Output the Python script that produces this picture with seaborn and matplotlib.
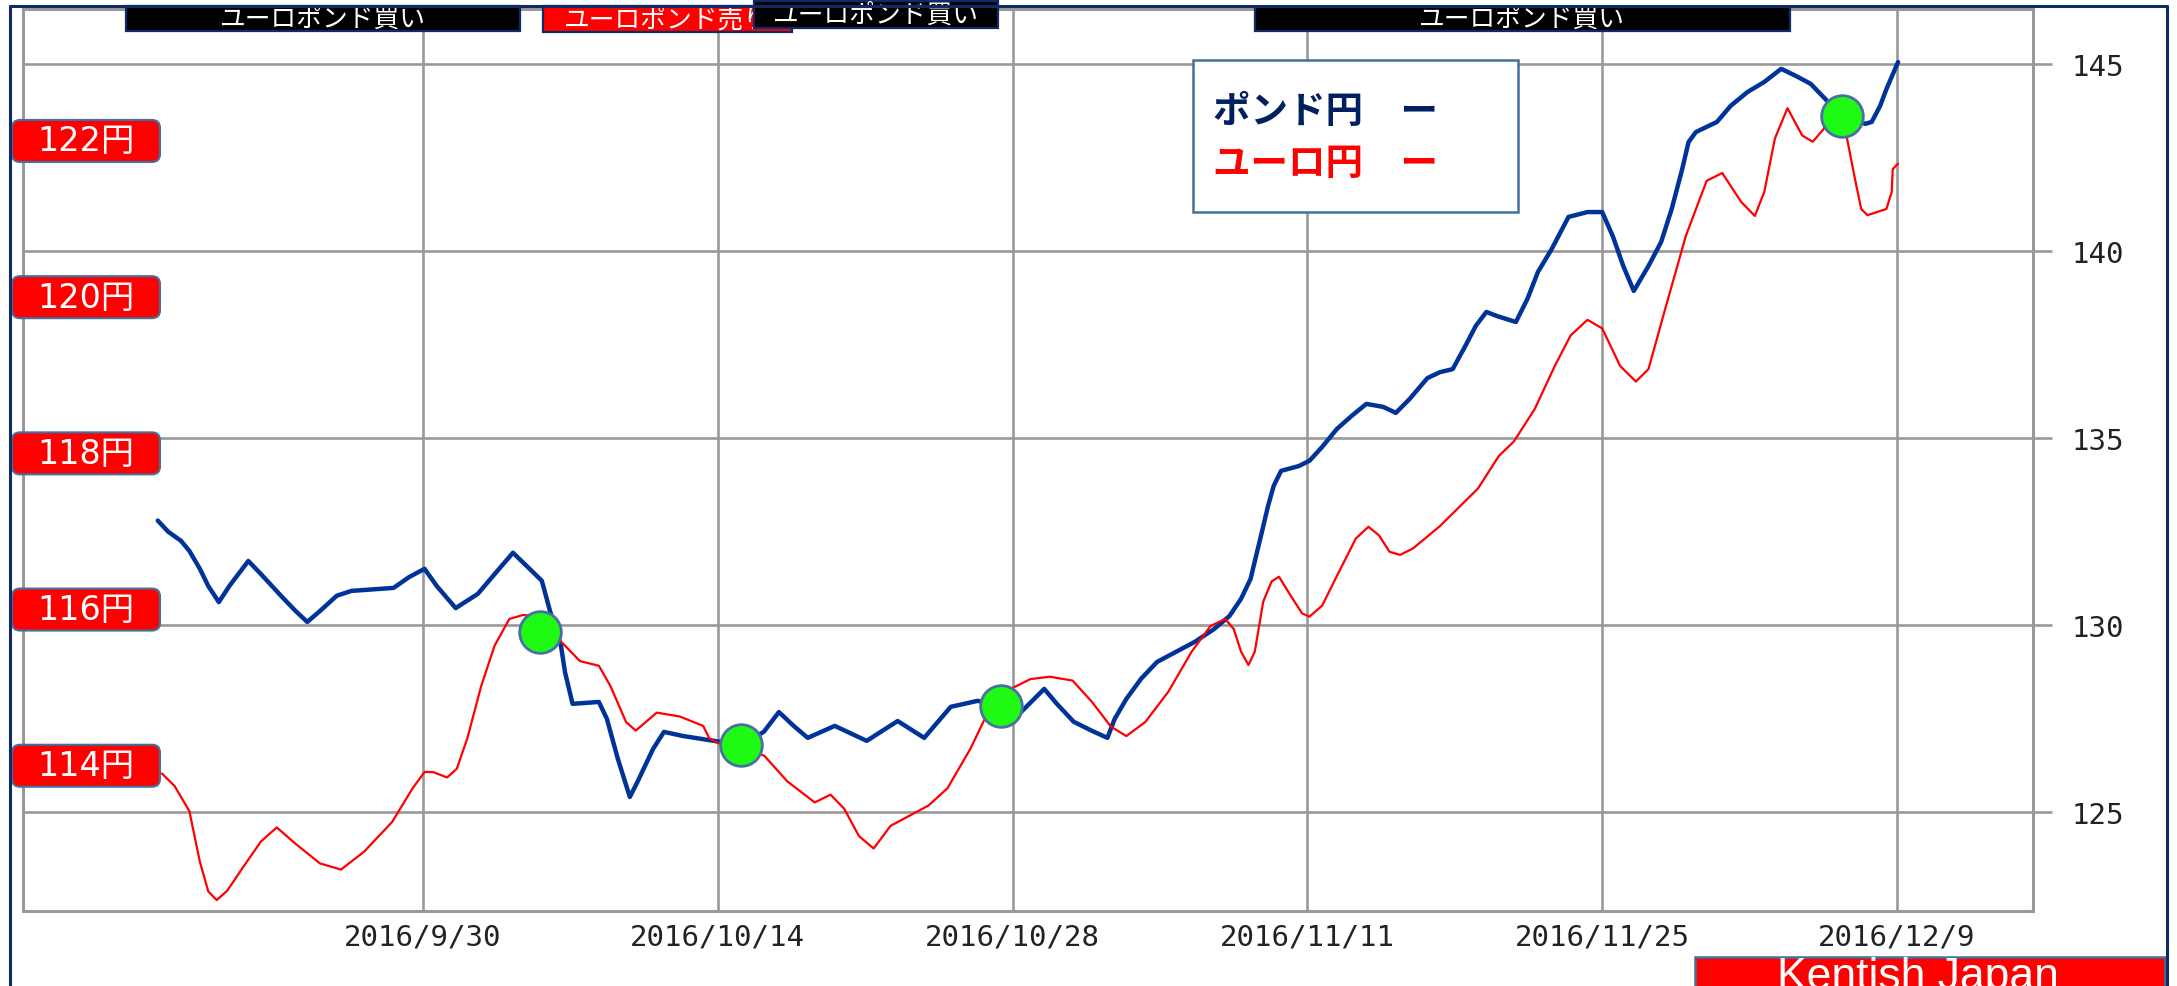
import numpy as np
import pandas as pd
import matplotlib
matplotlib.use("Agg")
import matplotlib.pyplot as plt
import seaborn as sns
from matplotlib.patches import Rectangle, FancyBboxPatch
from matplotlib.lines import Line2D
from matplotlib.transforms import blended_transform_factory, IdentityTransform

# ---------------- data (x = days from 2016/9/30) ----------------
pound_day = [-12.6, -12.1, -11.5, -11.1, -10.6, -10.2, -9.7, -9.2, -8.3, -7.7, -6.7, -6.05, -5.5, -4.9,
             -4.1, -3.4, -1.4, -0.66, 0.07, 0.65, 1.55, 2.6, 3.4, 4.27, 5.06, 5.64, 6.03, 6.55, 6.74,
             7.1, 8.35, 8.73, 9.25, 9.82, 10.18, 10.92, 11.44, 12.34, 13.81, 15.09, 16.18, 16.9, 17.6,
             18.27, 19.55, 21.07, 22.54, 23.8, 25.06, 26.34, 27.43, 28.4, 29.5, 30.1, 30.9, 31.76, 32.5,
             32.85, 33.4, 34.1, 34.86, 35.76, 36.66, 37.57, 38.3, 38.85, 39.3, 39.56, 39.84, 40.13, 40.4,
             40.75, 41.6, 42.1, 42.7, 43.4, 44.1, 44.8, 45.6, 46.2, 46.85, 47.7, 48.3, 48.9, 49.5, 50.0,
             50.5, 51.0, 51.9, 52.45, 52.95, 53.6, 54.4, 55.3, 56.0, 56.5, 57.0, 57.5, 58.2, 58.8, 59.3,
             59.8, 60.1, 60.45, 61.45, 62.1, 62.9, 63.7, 64.5, 65.2, 65.9, 66.5, 67.37, 68.5, 68.8, 69.2,
             69.5, 70.05]
pound_val = [132.79, 132.49, 132.25, 131.98, 131.50, 131.04, 130.61, 131.04, 131.71, 131.36, 130.75, 130.37,
             130.08, 130.37, 130.78, 130.91, 130.99, 131.28, 131.50, 131.04, 130.45, 130.83, 131.36, 131.93,
             131.50, 131.18, 130.37, 129.44, 128.74, 127.89, 127.94, 127.49, 126.42, 125.40, 125.80, 126.68,
             127.14, 127.03, 126.90, 126.79, 127.14, 127.67, 127.30, 126.98, 127.30, 126.90, 127.43, 126.98,
             127.81, 127.97, 127.83, 127.67, 128.29, 127.89, 127.41, 127.17, 126.98, 127.49, 128.02, 128.56,
             129.01, 129.28, 129.55, 129.89, 130.24, 130.70, 131.23, 131.84, 132.49, 133.18, 133.72, 134.12,
             134.25, 134.39, 134.76, 135.24, 135.59, 135.91, 135.83, 135.67, 136.04, 136.60, 136.76, 136.84,
             137.46, 138.00, 138.37, 138.26, 138.10, 138.72, 139.44, 140.05, 140.91, 141.04, 141.04, 140.40,
             139.60, 138.93, 139.60, 140.24, 141.12, 142.19, 142.91, 143.18, 143.45, 143.88, 144.25, 144.52,
             144.87, 144.68, 144.47, 144.12, 143.61, 143.40, 143.45, 143.88, 144.33, 145.05]

euro_day = [-12.4, -11.8, -11.1, -10.6, -10.2, -9.8, -9.3, -8.5, -7.7, -6.95, -6.05, -4.9, -3.9, -2.8, -1.47,
            -0.5, 0.07, 0.47, 1.14, 1.6, 2.1, 2.76, 3.4, 4.1, 4.74, 5.2, 5.6, 6.55, 7.45, 8.35, 8.9, 9.64,
            10.1, 11.1, 12.2, 13.3, 13.6, 14.0, 14.8, 16.2, 17.3, 18.6, 19.35, 20.0, 20.7, 21.4, 22.2, 24.0,
            24.9, 26.0, 27.07, 27.95, 28.85, 29.77, 30.85, 31.76, 32.67, 33.4, 34.3, 35.4, 36.5, 37.4, 38.1,
            38.5, 38.85, 39.2, 39.5, 39.9, 40.3, 40.65, 41.2, 41.75, 42.1, 42.7, 43.4, 44.3, 44.9, 45.4,
            45.9, 46.4, 47.0, 48.3, 50.1, 51.1, 51.8, 52.8, 53.75, 54.5, 55.3, 56.0, 56.85, 57.6, 58.2,
            58.95, 59.98, 60.96, 61.7, 62.6, 63.25, 63.7, 64.2, 64.8, 65.5, 66.0, 66.6, 67.6, 68.0, 68.3,
            68.6, 69.5, 69.75, 69.8, 70.05]
euro_val = [113.90, 113.74, 113.42, 112.77, 112.39, 112.28, 112.40, 112.72, 113.03, 113.21, 113.00, 112.75,
            112.67, 112.90, 113.28, 113.71, 113.92, 113.92, 113.85, 113.96, 114.35, 115.02, 115.54, 115.88,
            115.93, 115.92, 115.85, 115.59, 115.34, 115.28, 115.02, 114.56, 114.45, 114.68, 114.63, 114.51,
            114.35, 114.29, 114.25, 114.13, 113.80, 113.53, 113.63, 113.45, 113.10, 112.94, 113.23, 113.49,
            113.71, 114.22, 114.82, 114.99, 115.11, 115.14, 115.09, 114.82, 114.50, 114.38, 114.56, 114.95,
            115.46, 115.79, 115.88, 115.75, 115.46, 115.29, 115.46, 116.10, 116.36, 116.42, 116.18, 115.95,
            115.91, 116.05, 116.43, 116.91, 117.06, 116.95, 116.74, 116.70, 116.78, 117.07, 117.55, 117.97,
            118.15, 118.57, 119.12, 119.51, 119.71, 119.60, 119.12, 118.92, 119.08, 119.81, 120.79, 121.49,
            121.59, 121.22, 121.04, 121.35, 122.03, 122.42, 122.07, 121.99, 122.18, 122.07, 121.52, 121.13,
            121.05, 121.13, 121.35, 121.64, 121.71]

cross_day = [5.55, 15.09, 27.43, 67.37]
cross_val = [129.81, 126.79, 127.83, 143.61]

date_ticks = [0, 14, 28, 42, 56, 70]
date_labels = ["2016/9/30", "2016/10/14", "2016/10/28", "2016/11/11", "2016/11/25", "2016/12/9"]
pound_ticks = [125, 130, 135, 140, 145]
euro_ticks = [114, 116, 118, 120, 122]
euro_tick_labels = ["114円", "116円", "118円", "120円", "122円"]

signal_labels = ["ユーロポンド買い", "ユーロポンド売り", "ユーロポンド買い", "ユーロポンド買い"]
signal_start = [-14.1, 5.7, 15.7, 39.5]
signal_end = [4.6, 17.5, 27.3, 64.9]
signal_colors = ["#000000", "#FF0000", "#000000", "#000000"]

legend_labels = ["ポンド円　ー", "ユーロ円　ー"]
credit = "Kentish Japan"

# ---------------- style ----------------
sns.set_theme(style="white")
CJK = ["Noto Sans CJK JP", "DejaVu Sans"]
plt.rcParams["font.family"] = ["DejaVu Sans", "Noto Sans CJK JP"]

W, H, DPI = 2177, 987, 100
GRAY = "#999999"
NAVY = "#003399"
EDGE = "#41719C"
BORDER = "#0F2A66"

fig = plt.figure(figsize=(W / DPI, H / DPI), dpi=DPI, facecolor="white")

def fx(x):
    return x / W

def fy(y):
    return 1 - y / H

ax = fig.add_axes([fx(23), fy(912), (2033 - 23) / W, (912 - 10) / H])
ax.set_facecolor("white")
ax_e = ax.twinx()

# pound line (right axis)
sns.lineplot(x=pound_day, y=pound_val, ax=ax, color=NAVY, linewidth=3.2,
             estimator=None, sort=False, zorder=3)
# euro line (own scale, labels on the left)
sns.lineplot(x=euro_day, y=euro_val, ax=ax_e, color="#FF0000", linewidth=1.6,
             estimator=None, sort=False, zorder=3)
# crossing markers (pound scale)
ax_e.scatter(cross_day, cross_val, s=900, color="#1EFA14", edgecolor="#4A6FA5",
             linewidth=2, zorder=6, transform=ax.transData)

ax.set_xlim(-19.0, 76.46)
ax.set_ylim(122.35, 146.47)
ax_e.set_ylim(112.14, 123.69)

# grid / spines
ax.set_axisbelow(True)
ax.grid(True, color=GRAY, linewidth=1.9)
for s in ax.spines.values():
    s.set_visible(True)
    s.set_color(GRAY)
    s.set_linewidth(2.2)
for s in ax_e.spines.values():
    s.set_visible(False)

ax.set_xticks(date_ticks)
ax.set_xticklabels(date_labels, family="DejaVu Sans Mono", fontsize=21, color="#222222")
ax.tick_params(axis="x", length=0, pad=8)
ax.yaxis.tick_right()
ax.set_yticks(pound_ticks)
ax.set_yticklabels([str(t) for t in pound_ticks], family="DejaVu Sans Mono", fontsize=21, color="#222222")
ax.tick_params(axis="y", which="major", length=13.7, width=1.9, color=GRAY, pad=14,
               left=False, right=True, labelleft=False, labelright=True)
ax_e.set_yticks([])
ax_e.tick_params(left=False, right=False, labelleft=False, labelright=False)
ax.set_xlabel("")
ax.set_ylabel("")
ax_e.set_ylabel("")

# euro-yen scale labels on the left (red rounded boxes)
for v, lab in zip(euro_ticks, euro_tick_labels):
    ypix = ax_e.transData.transform((0, v))[1]
    box = FancyBboxPatch((12, ypix - 21), 148, 42, boxstyle="round,pad=0,rounding_size=8",
                         facecolor="#FF0000", edgecolor=EDGE, linewidth=1.5,
                         transform=IdentityTransform(), zorder=20)
    fig.add_artist(box)
    fig.text(86 / W, ypix / H, lab, color="white", fontsize=24, ha="center", va="center",
             family=["DejaVu Sans", "Noto Sans CJK JP"], zorder=21)

# signal bars along the top (x in dates)
bt = blended_transform_factory(ax_e.transData, ax_e.transAxes)
bar_y = [(1.0033, 0.9756), (1.0033, 0.9745), (1.0089, 0.979), (1.0022, 0.9756)]
for i, (lab, s0, s1, c) in enumerate(zip(signal_labels, signal_start, signal_end, signal_colors)):
    y_top, y_bot = bar_y[i]
    r = Rectangle((s0, y_bot), s1 - s0, y_top - y_bot, transform=bt, facecolor=c,
                  edgecolor=BORDER, linewidth=1.6, clip_on=False, zorder=10 + 2 * i)
    ax_e.add_patch(r)
    ax_e.text((s0 + s1) / 2, (y_top + y_bot) / 2, lab, transform=bt, color="white", fontsize=18.5,
              ha="center", va="center", family=CJK, clip_on=False, zorder=11 + 2 * i)

# legend box
fig.add_artist(Rectangle((fx(1193), fy(213)), 325 / W, 152 / H, transform=fig.transFigure,
                         facecolor="white", edgecolor=EDGE, linewidth=1.8, zorder=5))
fig.text(fx(1213), fy(111), legend_labels[0], color="#002060", fontsize=27, fontweight="bold",
         ha="left", va="center", family=CJK, zorder=6)
fig.text(fx(1213), fy(163), legend_labels[1], color="#FF0000", fontsize=27, fontweight="bold",
         ha="left", va="center", family=CJK, zorder=6)

# credit box (bottom right, cut by the frame)
fig.add_artist(Rectangle((fx(1695), -0.02), (2165 - 1695) / W, (987 - 958 + 20) / H,
                         transform=fig.transFigure, facecolor="#FF0000", edgecolor=EDGE,
                         linewidth=1.8, zorder=5))
fig.text(fx(1918), fy(957), credit, color="white", fontsize=32, ha="center", va="top",
         family="Liberation Sans", zorder=6)

# outer frame
for xs, ys in [((10, 10), (7, 990)), ((10, 2167), (7, 7)), ((2167, 2167), (7, 990))]:
    fig.add_artist(Line2D([fx(xs[0]), fx(xs[1])], [fy(ys[0]), fy(ys[1])], transform=fig.transFigure,
                          color=BORDER, linewidth=2.2, zorder=30))

fig.savefig("out.png", dpi=DPI, facecolor="white")
